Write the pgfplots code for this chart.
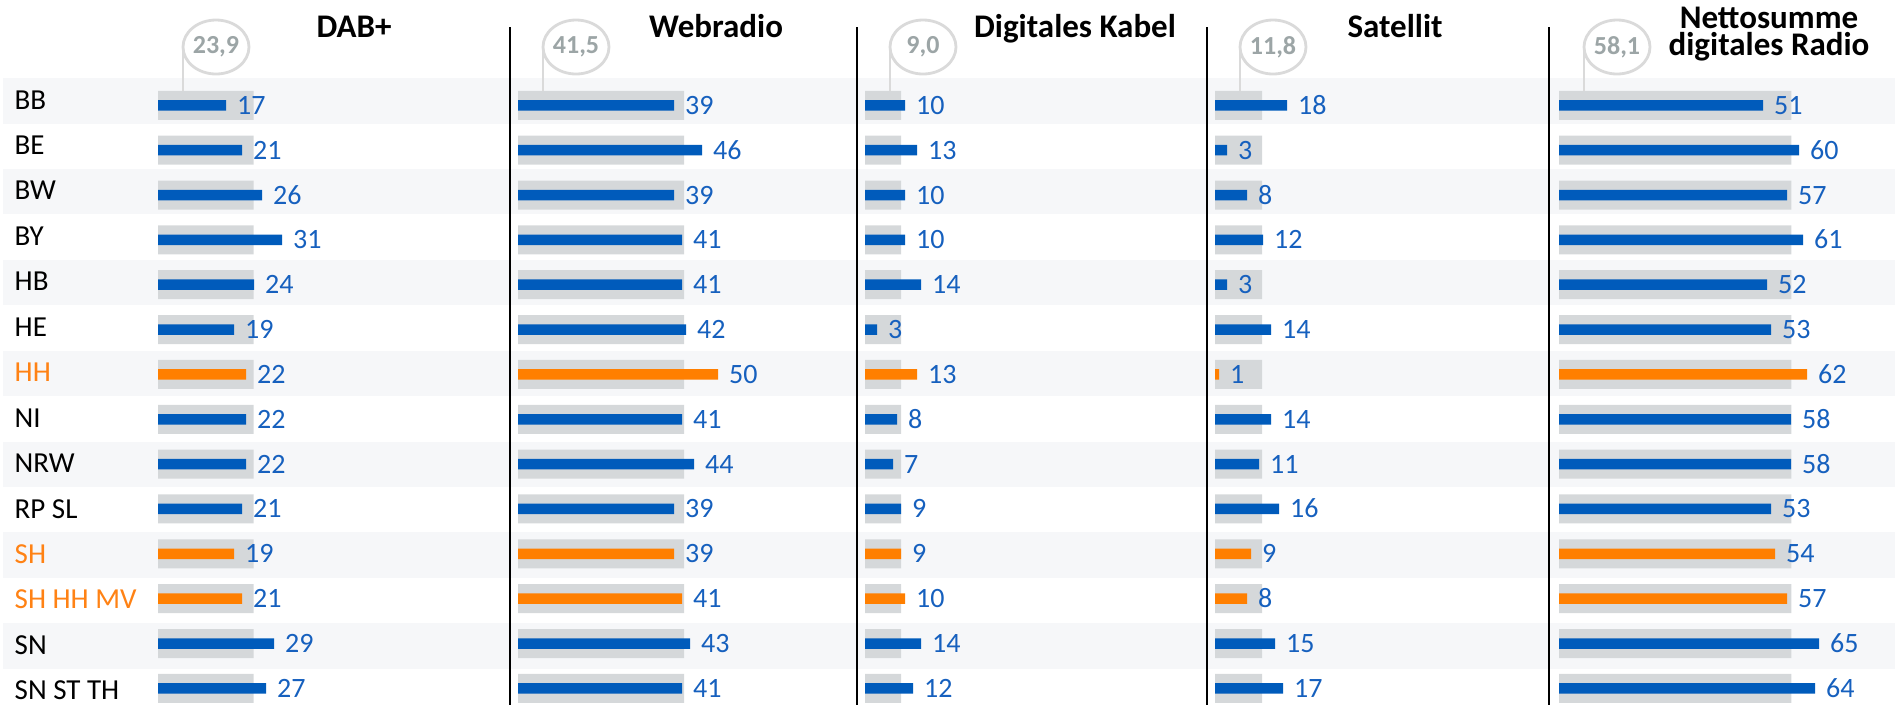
\documentclass[border=0pt]{standalone}
\usepackage{pgfplots}
\pgfplotsset{compat=1.18}
\usepackage{fontspec}
\setmainfont{Carlito}
\definecolor{barblue}{RGB}{0,91,187}
\definecolor{valblue}{RGB}{22,96,190}
\definecolor{barorange}{RGB}{255,127,0}
\definecolor{lblorange}{RGB}{255,130,20}
\definecolor{avggrey}{RGB}{213,216,218}
\definecolor{stripecol}{RGB}{246,247,249}
\definecolor{bubblecol}{RGB}{218,218,218}
\definecolor{bubbletext}{RGB}{156,165,166}
\newcommand{\valfont}{\fontsize{28}{32}\selectfont}
\newcommand{\lblfont}{\fontsize{29}{34}\selectfont}
\newcommand{\ttlfont}{\fontsize{33}{27}\selectfont\bfseries}
\newcommand{\bubfont}{\fontsize{26}{30}\selectfont\bfseries}
\newcommand{\bubble}[1]{%
  \draw[bubblecol, line width=2.8pt] (axis cs:6.25,-1.28) -- (axis cs:6.25,-0.31);
  \draw[bubblecol, line width=2.8pt, fill=white] (axis cs:14.5,-1.30) ellipse [x radius=33pt, y radius=27pt];
  \node[font=\bubfont, text=bubbletext] at (axis cs:14.5,-1.30) {#1};
}
\pgfplotsset{
  panel/.style={
    scale only axis, width=320pt, height=627.9pt,
    xmin=0, xmax=80, ymin=-0.5, ymax=13.5, y dir=reverse,
    enlargelimits=false, hide axis, clip=false, anchor=north west,
    xbar, /pgf/number format/assume math mode=true,
  },
  avgbar/.style={xbar, bar shift=0pt, bar width=29pt, fill=avggrey, draw=none},
  valbar/.style={xbar, bar shift=0pt, bar width=10.5pt, draw=none, point meta=x,
    nodes near coords,
    every node near coord/.append style={anchor=base west, inner sep=0pt, xshift=11pt, yshift=-9pt, font=\valfont, text=valblue}},
}
\begin{document}
\begin{tikzpicture}
\useasboundingbox (0,0) rectangle (1895pt,-705pt);
\foreach \i in {0,2,...,12}{
  \fill[stripecol] (3pt,{-78.08pt-\i*45.44pt}) rectangle (1895pt,{-78.08pt-(\i+1)*45.44pt});
}
% row labels
\begin{axis}[scale only axis, width=100pt, height=636.16pt, at={(14.5pt,-78.08pt)}, anchor=north west,
  xmin=0, xmax=1, ymin=-0.5, ymax=13.5, y dir=reverse, enlargelimits=false,
  axis line style={draw=none}, xtick=\empty, ytick={0,...,13}, major tick length=0pt,
  yticklabels={BB,BE,BW,BY,HB,HE,\textcolor{lblorange}{HH},NI,NRW,RP SL,\textcolor{lblorange}{SH},\textcolor{lblorange}{SH HH MV},SN,SN ST TH},
  yticklabel style={anchor=base west, inner sep=0pt, yshift=-8.3pt, font=\lblfont},
]
\end{axis}
% DAB+
\begin{axis}[panel, at={(158pt,-82.875pt)}]
\addplot[avgbar] coordinates {(23.9,0) (23.9,1) (23.9,2) (23.9,3) (23.9,4) (23.9,5) (23.9,6) (23.9,7) (23.9,8) (23.9,9) (23.9,10) (23.9,11) (23.9,12) (23.9,13)};
\addplot[valbar, fill=barblue] coordinates {(17,0) (21,1) (26,2) (31,3) (24,4) (19,5) (22,7) (22,8) (21,9) (29,12) (27,13)};
\addplot[valbar, fill=barorange] coordinates {(22,6) (19,10) (21,11)};
\bubble{23,9}
\end{axis}
% Webradio
\begin{axis}[panel, at={(518pt,-82.875pt)}]
\addplot[avgbar] coordinates {(41.5,0) (41.5,1) (41.5,2) (41.5,3) (41.5,4) (41.5,5) (41.5,6) (41.5,7) (41.5,8) (41.5,9) (41.5,10) (41.5,11) (41.5,12) (41.5,13)};
\addplot[valbar, fill=barblue] coordinates {(39,0) (46,1) (39,2) (41,3) (41,4) (42,5) (41,7) (44,8) (39,9) (43,12) (41,13)};
\addplot[valbar, fill=barorange] coordinates {(50,6) (39,10) (41,11)};
\bubble{41,5}
\end{axis}
% Digitales Kabel
\begin{axis}[panel, at={(865pt,-82.875pt)}]
\addplot[avgbar] coordinates {(9.0,0) (9.0,1) (9.0,2) (9.0,3) (9.0,4) (9.0,5) (9.0,6) (9.0,7) (9.0,8) (9.0,9) (9.0,10) (9.0,11) (9.0,12) (9.0,13)};
\addplot[valbar, fill=barblue] coordinates {(10,0) (13,1) (10,2) (10,3) (14,4) (3,5) (8,7) (7,8) (9,9) (14,12) (12,13)};
\addplot[valbar, fill=barorange] coordinates {(13,6) (9,10) (10,11)};
\bubble{9,0}
\end{axis}
% Satellit
\begin{axis}[panel, at={(1215pt,-82.875pt)}]
\addplot[avgbar] coordinates {(11.8,0) (11.8,1) (11.8,2) (11.8,3) (11.8,4) (11.8,5) (11.8,6) (11.8,7) (11.8,8) (11.8,9) (11.8,10) (11.8,11) (11.8,12) (11.8,13)};
\addplot[valbar, fill=barblue] coordinates {(18,0) (3,1) (8,2) (12,3) (3,4) (14,5) (14,7) (11,8) (16,9) (15,12) (17,13)};
\addplot[valbar, fill=barorange] coordinates {(1,6) (9,10) (8,11)};
\bubble{11,8}
\end{axis}
% Nettosumme
\begin{axis}[panel, at={(1559pt,-82.875pt)}]
\addplot[avgbar] coordinates {(58.1,0) (58.1,1) (58.1,2) (58.1,3) (58.1,4) (58.1,5) (58.1,6) (58.1,7) (58.1,8) (58.1,9) (58.1,10) (58.1,11) (58.1,12) (58.1,13)};
\addplot[valbar, fill=barblue] coordinates {(51,0) (60,1) (57,2) (61,3) (52,4) (53,5) (58,7) (58,8) (53,9) (65,12) (64,13)};
\addplot[valbar, fill=barorange] coordinates {(62,6) (54,10) (57,11)};
\bubble{58,1}
\end{axis}
% separators
\foreach \x in {510,856.5,1207,1549}{
  \draw[black, line width=2pt] (\x pt,-27pt) -- (\x pt,-705pt);
}
% titles
\node[font=\ttlfont, anchor=base] at (354pt,-37pt) {DAB+};
\node[font=\ttlfont, anchor=base] at (716pt,-37pt) {Webradio};
\node[font=\ttlfont, anchor=base] at (1075pt,-37pt) {Digitales Kabel};
\node[font=\ttlfont, anchor=base] at (1395pt,-37pt) {Satellit};
\node[font=\ttlfont, anchor=base] at (1769pt,-28pt) {Nettosumme};
\node[font=\ttlfont, anchor=base] at (1769pt,-55pt) {digitales Radio};
\end{tikzpicture}
\end{document}
